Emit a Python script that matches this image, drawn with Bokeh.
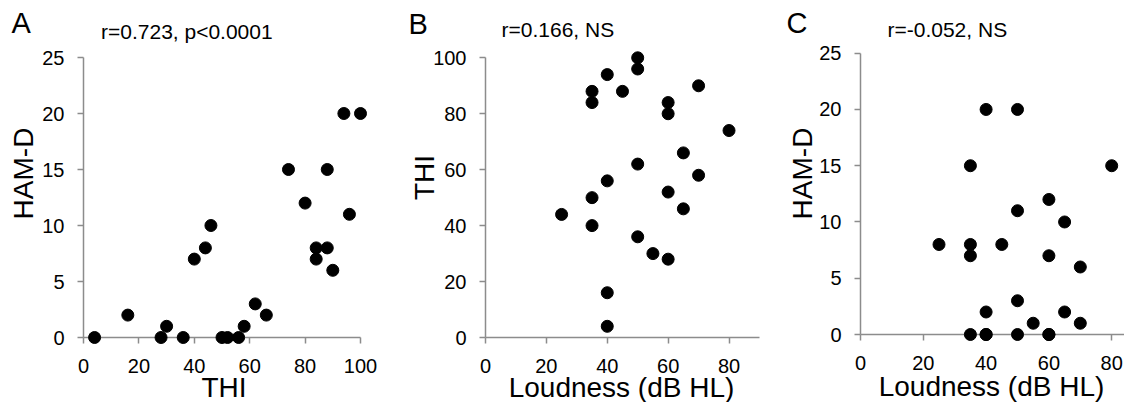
import math
from bokeh.plotting import figure
from bokeh.layouts import row
from bokeh.models import Label, FixedTicker, Range1d
from bokeh.embed import file_html
from bokeh.resources import INLINE

# ---- data (one entry per subject) ----
thi      = [4, 16, 28, 30, 36, 40, 44, 46, 50, 52, 56, 58, 62, 66, 74, 80, 84, 84, 88, 88, 90, 94, 96, 100]
hamd     = [0, 2, 0, 1, 0, 7, 8, 10, 0, 0, 0, 1, 3, 2, 15, 12, 8, 7, 15, 8, 6, 20, 11, 20]
loudness = [40, 40, 60, 55, 50, 35, 25, 65, 35, 60, 40, 70, 50, 65, 80, 60, 35, 60, 35, 45, 70, 40, 50, 50]

panel_letters = ["A", "B", "C"]
panel_titles = ["r=0.723, p<0.0001", "r=0.166, NS", "r=-0.052, NS"]

thi_ticks = [0, 20, 40, 60, 80, 100]
hamd_ticks = [0, 5, 10, 15, 20, 25]
loud_ticks = [0, 20, 40, 60, 80]

FONT = "Liberation Sans"
AXIS_COLOR = "#8c8c8c"
H = 402


def make_panel(xs, ys, fig_w, x0px, xspx, y0px, yspx, xmax, ymax, xticks, yticks,
               letter, letter_pos, title, title_pos, ylab, ylab_pos, xlab, xlab_pos):
    # the whole figure is the frame; axes are pinned at data zero
    xr = (-x0px / xspx, (fig_w - x0px) / xspx)
    yr = ((y0px - H) / yspx, y0px / yspx)
    p = figure(x_range=Range1d(*xr), y_range=Range1d(*yr),
               width=fig_w, height=H, min_border=0,
               toolbar_location=None, output_backend="svg")
    p.outline_line_color = None
    p.grid.visible = False
    p.background_fill_color = "white"
    p.border_fill_color = "white"

    xa, ya = p.xaxis[0], p.yaxis[0]
    xa.fixed_location = 0
    ya.fixed_location = 0
    xa.bounds = (0, min(xmax, xr[1]))
    ya.bounds = (0, ymax)
    for ax, ticks in ((xa, xticks), (ya, yticks)):
        ax.ticker = FixedTicker(ticks=ticks)
        ax.axis_line_color = AXIS_COLOR
        ax.axis_line_width = 1.5
        ax.major_tick_line_color = AXIS_COLOR
        ax.major_tick_line_width = 1.5
        ax.major_tick_in = 0
        ax.major_tick_out = 6
        ax.minor_tick_line_color = None
        ax.major_label_text_font = FONT
        ax.major_label_text_font_size = "20px"
        ax.major_label_text_color = "black"
    xa.major_label_standoff = 15
    ya.major_label_standoff = 13

    p.scatter(xs, ys, size=12, color="black", level="overlay")

    def lab(text, pix, size, align, angle=0.0):
        # pix: centre-line position in the figure's pixels (from top-left), as data units
        px, py = pix
        p.add_layout(Label(x=(px - x0px) / xspx, y=(y0px - py) / yspx,
                           text=text, text_font=FONT, text_font_size=size,
                           text_align=align, text_baseline="middle",
                           angle=angle, text_color="black"))

    lab(letter, letter_pos, "29px", "left")
    lab(title, title_pos, "21px", "left")
    lab(ylab, ylab_pos, "28px", "center", math.pi / 2)
    lab(xlab, xlab_pos, "28px", "center")
    return p


pa = make_panel(thi, hamd, 405, 83, 2.77, 337, 11.2, 100, 25, thi_ticks, hamd_ticks,
                panel_letters[0], (11, 22.8), panel_titles[0], (100.5, 30.6),
                "HAM-D", (23, 173), "THI", (223.5, 387))

pb = make_panel(loudness, thi, 375, 80, 3.044, 337, 2.797, 90, 100, loud_ticks, thi_ticks,
                panel_letters[1], (3, 23.1), panel_titles[1], (96, 29.3),
                "THI", (19, 177), "Loudness (dB HL)", (216, 387))

pc = make_panel(loudness, hamd, 344, 80, 3.14, 334, 11.252, 90, 25, loud_ticks, hamd_ticks,
                panel_letters[2], (6, 22.8), panel_titles[2], (107, 28.6),
                "HAM-D", (22, 173), "Loudness (dB HL)", (211, 386))

layout = row(pa, pb, pc, spacing=0)

open("out.html", "w").write(file_html(layout, INLINE))
